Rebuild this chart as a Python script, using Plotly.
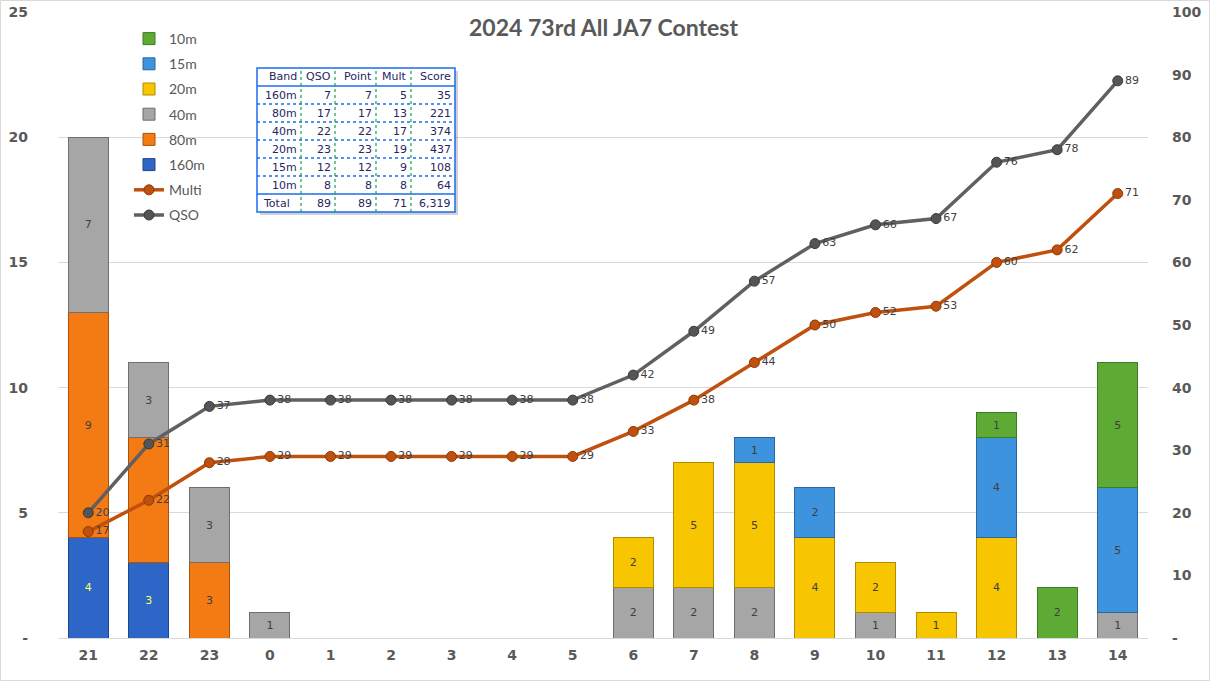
import plotly.graph_objects as go

# ---------------- data ----------------
hours = ["21", "22", "23", "0", "1", "2", "3", "4", "5", "6", "7", "8", "9", "10", "11", "12", "13", "14"]
b160 = [4, 3, 0, 0, 0, 0, 0, 0, 0, 0, 0, 0, 0, 0, 0, 0, 0, 0]
b80  = [9, 5, 3, 0, 0, 0, 0, 0, 0, 0, 0, 0, 0, 0, 0, 0, 0, 0]
b40  = [7, 3, 3, 1, 0, 0, 0, 0, 0, 2, 2, 2, 0, 1, 0, 0, 0, 1]
b20  = [0, 0, 0, 0, 0, 0, 0, 0, 0, 2, 5, 5, 4, 2, 1, 4, 0, 0]
b15  = [0, 0, 0, 0, 0, 0, 0, 0, 0, 0, 0, 1, 2, 0, 0, 4, 0, 5]
b10  = [0, 0, 0, 0, 0, 0, 0, 0, 0, 0, 0, 0, 0, 0, 0, 1, 2, 5]
qso_cum   = [20, 31, 37, 38, 38, 38, 38, 38, 38, 42, 49, 57, 63, 66, 67, 76, 78, 89]
multi_cum = [17, 22, 28, 29, 29, 29, 29, 29, 29, 33, 38, 44, 50, 52, 53, 60, 62, 71]

table_header = ["Band", "QSO", "Point", "Mult", "Score"]
table_band  = ["160m", "80m", "40m", "20m", "15m", "10m", "Total"]
table_qso   = ["7", "17", "22", "23", "12", "8", "89"]
table_point = ["7", "17", "22", "23", "12", "8", "89"]
table_mult  = ["5", "13", "17", "19", "9", "8", "71"]
table_score = ["35", "221", "374", "437", "108", "64", "6,319"]

# ---------------- layout geometry ----------------
W, H = 1210, 681
L, R, T, B = 58, 62, 12, 43
PW, PH = W - L - R, H - T - B


def px(x):
    """window pixel x -> paper"""
    return (x - L) / PW


def py(y):
    """window pixel y -> paper"""
    return (H - B - y) / PH


TXT = "#595959"
fig = go.Figure()

series = [
    ("160m", b160, "#2e66c8", "#1d4690", "#ffff66", 6),
    ("80m", b80, "#f47a14", "#a9520c", "#404040", 5),
    ("40m", b40, "#a6a6a6", "#6f6f6f", "#404040", 4),
    ("20m", b20, "#f7c600", "#b08d00", "#404040", 3),
    ("15m", b15, "#3d93dd", "#2a67a0", "#404040", 2),
    ("10m", b10, "#5dab35", "#3e7a22", "#404040", 1),
]
for name, vals, col, lcol, tcol, rank in series:
    fig.add_trace(go.Bar(
        x=hours, y=[v if v else None for v in vals], name=name,
        marker=dict(color=col, line=dict(color=lcol, width=1)),
        text=[str(v) if v else "" for v in vals],
        textposition="inside", insidetextanchor="middle", textangle=0,
        constraintext="none",
        textfont=dict(color=tcol, size=11, family="DejaVu Sans"),
        legendrank=rank, legendgroup=name,
        hoverinfo="skip",
    ))

fig.add_trace(go.Scatter(
    x=hours, y=multi_cum, name="Multi", yaxis="y2",
    mode="lines+markers+text",
    line=dict(color="#c0500e", width=3.5),
    marker=dict(color="#c0500e", size=10, line=dict(color="#8a3a08", width=1)),
    text=[str(v) for v in multi_cum], textposition="middle right",
    textfont=dict(color="#404040", size=11, family="DejaVu Sans"),
    legendrank=7, legendgroup="Multi",
))
fig.add_trace(go.Scatter(
    x=hours, y=qso_cum, name="QSO", yaxis="y2",
    mode="lines+markers+text",
    line=dict(color="#606060", width=3.5),
    marker=dict(color="#555555", size=10, line=dict(color="#3a3a3a", width=1)),
    text=[str(v) for v in qso_cum], textposition="middle right",
    textfont=dict(color="#404040", size=11, family="DejaVu Sans"),
    legendrank=8, legendgroup="QSO",
))

shapes = []
annotations = []

# outer chart border
shapes.append(dict(type="rect", xref="paper", yref="paper",
                   x0=px(0.5), x1=px(W - 0.5), y0=py(H - 0.5), y1=py(0.5),
                   line=dict(color="#d9d9d9", width=1), layer="below"))

# ---------------- summary table ----------------
col_edges = [257, 301, 335, 376, 411, 455]
row_edges = [68, 86, 104, 122, 140, 158, 176, 194, 212]
BLUE = "#1a6ef0"
shapes.append(dict(type="rect", xref="paper", yref="paper",
                   x0=px(col_edges[0] + 3), x1=px(col_edges[-1] + 3),
                   y0=py(row_edges[-1] + 3), y1=py(row_edges[0] + 3),
                   fillcolor="rgba(0,0,0,0.18)", line=dict(width=0)))
shapes.append(dict(type="rect", xref="paper", yref="paper",
                   x0=px(col_edges[0]), x1=px(col_edges[-1]),
                   y0=py(row_edges[-1]), y1=py(row_edges[0]),
                   fillcolor="white", line=dict(color=BLUE, width=1.5)))
for i, ry in enumerate(row_edges[1:-1], start=1):
    solid = (i == 1 or i == len(row_edges) - 2)
    shapes.append(dict(type="line", xref="paper", yref="paper",
                       x0=px(col_edges[0]), x1=px(col_edges[-1]), y0=py(ry), y1=py(ry),
                       line=dict(color=BLUE, width=1.3,
                                 dash="solid" if solid else "dot")))
for cx in col_edges[1:-1]:
    shapes.append(dict(type="line", xref="paper", yref="paper",
                       x0=px(cx), x1=px(cx), y0=py(row_edges[-1]), y1=py(row_edges[0]),
                       line=dict(color="#17a34a", width=1.2, dash="dot")))

TFONT = dict(family="DejaVu Sans", size=11, color="#26265e")
rows = [table_header] + [list(r) for r in zip(table_band, table_qso, table_point, table_mult, table_score)]
for ri, row in enumerate(rows):
    yc = (row_edges[ri] + row_edges[ri + 1]) / 2
    for ci, txt in enumerate(row):
        if ri == len(rows) - 1 and ci == 0:
            annotations.append(dict(x=px(col_edges[0] + 4), y=py(yc), xref="paper", yref="paper",
                                    text=txt, showarrow=False, xanchor="left", yanchor="middle",
                                    font=TFONT))
        else:
            annotations.append(dict(x=px(col_edges[ci + 1] - 2), y=py(yc), xref="paper", yref="paper",
                                    text=txt, showarrow=False, xanchor="right", yanchor="middle",
                                    font=TFONT))

# chart title
annotations.append(dict(x=0.5, xref="paper", y=py(27), yref="paper",
                        text="<b>2024 73rd All JA7 Contest</b>", showarrow=False,
                        xanchor="center", yanchor="middle",
                        font=dict(family="Lato", size=23, color=TXT)))

fig.update_layout(
    width=W, height=H,
    margin=dict(l=L, r=R, t=T, b=B, autoexpand=False),
    paper_bgcolor="white", plot_bgcolor="white",
    barmode="stack", bargap=0.34,
    xaxis=dict(type="category", range=[-0.5, len(hours) - 0.5], autorange=False,
               showgrid=False, showline=False, ticks="",
               automargin=False,
               tickfont=dict(family="DejaVu Sans", size=14, color=TXT, weight="bold"),
               ticklabelstandoff=7),
    yaxis=dict(range=[0, 25], tickvals=[0, 5, 10, 15, 20, 25],
               ticktext=["-", "5", "10", "15", "20", "25"],
               showgrid=True, gridcolor="#d9d9d9", gridwidth=1,
               zeroline=True, zerolinecolor="#d9d9d9", zerolinewidth=1,
               showline=False, ticks="", automargin=False,
               ticklabeloverflow="allow",
               tickfont=dict(family="DejaVu Sans", size=14, color=TXT, weight="bold"),
               ticklabelstandoff=29),
    yaxis2=dict(range=[0, 100], overlaying="y", side="right",
                tickvals=list(range(0, 101, 10)),
                ticktext=["-"] + [str(v) for v in range(10, 101, 10)],
                showgrid=False, zeroline=False, showline=False, ticks="",
                automargin=False, ticklabeloverflow="allow",
                tickfont=dict(family="DejaVu Sans", size=14, color=TXT, weight="bold"),
                ticklabelstandoff=23),
    legend=dict(x=px(129), y=py(23), xanchor="left", yanchor="top",
                bgcolor="rgba(0,0,0,0)", traceorder="grouped", tracegroupgap=4,
                font=dict(family="Lato", size=14, color=TXT),
                itemwidth=30),
    showlegend=True,
    shapes=shapes,
    annotations=annotations,
)

# remove the default page margin so the 1210x681 figure fills the window exactly
fig.write_html("out.html",
               config={"displayModeBar": False},
               post_script="document.body.style.margin='0';document.body.style.overflow='hidden';")
